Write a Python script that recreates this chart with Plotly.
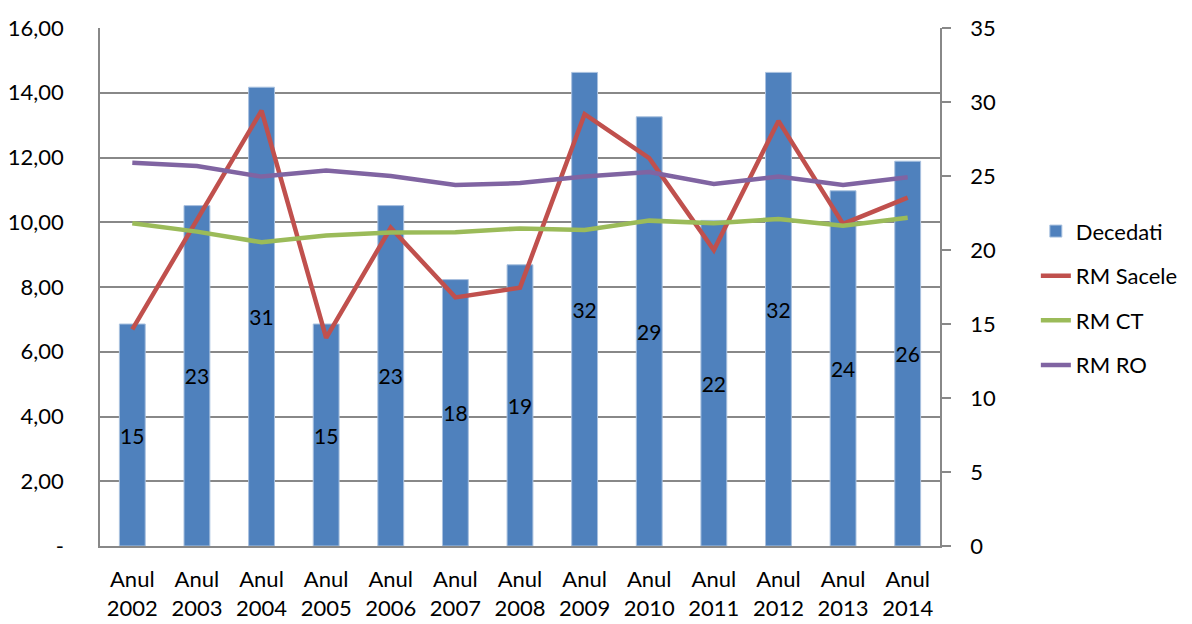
import plotly.graph_objects as go

# Categories and series values
years = ["Anul<br>2002", "Anul<br>2003", "Anul<br>2004", "Anul<br>2005", "Anul<br>2006",
         "Anul<br>2007", "Anul<br>2008", "Anul<br>2009", "Anul<br>2010", "Anul<br>2011",
         "Anul<br>2012", "Anul<br>2013", "Anul<br>2014"]
decedati = [15, 23, 31, 15, 23, 18, 19, 32, 29, 22, 32, 24, 26]
rm_sacele = [6.69, 10.07, 13.45, 6.43, 9.83, 7.68, 7.98, 13.34, 11.98, 9.14, 13.13, 9.95, 10.76]
rm_ct = [9.97, 9.71, 9.38, 9.59, 9.68, 9.69, 9.81, 9.76, 10.05, 9.97, 10.10, 9.89, 10.14]
rm_ro = [11.84, 11.74, 11.41, 11.60, 11.43, 11.15, 11.21, 11.41, 11.55, 11.18, 11.41, 11.15, 11.39]

# Axis ticks
rate_ticks = [0, 2, 4, 6, 8, 10, 12, 14, 16]
rate_labels = ["-", "2,00", "4,00", "6,00", "8,00", "10,00", "12,00", "14,00", "16,00"]
count_ticks = [0, 5, 10, 15, 20, 25, 30, 35]

FONT = "Lato"
GRAY = "#888888"

fig = go.Figure()

# Deaths as bars on the right-hand axis (primary y so the lines sit on top)
fig.add_trace(go.Bar(
    x=years, y=decedati, name="Decedati", legendgroup="a",
    marker=dict(color="#4F81BD", line=dict(color="#A9C1DF", width=1)),
    text=[str(v) for v in decedati], textposition="inside",
    insidetextanchor="middle", textangle=0, constraintext="none",
    textfont=dict(family=FONT, size=21, color="black"),
    yaxis="y",
))

# Mortality rates as lines on the left-hand axis
for name, vals, color, grp in [("RM Sacele", rm_sacele, "#C0504D", "b"),
                               ("RM CT", rm_ct, "#9BBB59", "c"),
                               ("RM RO", rm_ro, "#8064A2", "d")]:
    fig.add_trace(go.Scatter(
        x=years, y=vals, name=name, mode="lines", legendgroup=grp,
        line=dict(color=color, width=4.5),
        yaxis="y2",
    ))

fig.update_layout(
    width=1192, height=624,
    margin=dict(l=100, r=252, t=28, b=78, autoexpand=False),
    paper_bgcolor="white", plot_bgcolor="white",
    font=dict(family=FONT, size=22, color="black"),
    bargap=0.6,
    showlegend=True,
    legend=dict(xref="container", yref="container",
                x=0.869, xanchor="left", y=0.663, yanchor="top",
                font=dict(family=FONT, size=22, color="black"),
                tracegroupgap=13, itemwidth=30, borderwidth=0,
                bgcolor="rgba(0,0,0,0)"),
    xaxis=dict(
        showgrid=False, showline=True, linecolor=GRAY, linewidth=1.5,
        ticks="", tickfont=dict(family=FONT, size=22, color="black"),
        ticklabelstandoff=13, automargin=False,
    ),
    yaxis=dict(
        side="right", range=[0, 35], tickvals=count_ticks,
        showgrid=False, zeroline=False,
        showline=True, linecolor=GRAY, linewidth=1.5,
        ticks="outside", ticklen=9, tickcolor=GRAY, tickwidth=1.5,
        ticklabelstandoff=15, automargin=False,
        tickfont=dict(family=FONT, size=22, color="black"),
    ),
    yaxis2=dict(
        side="left", overlaying="y", range=[0, 16],
        tickvals=rate_ticks, ticktext=rate_labels,
        showgrid=True, gridcolor=GRAY, gridwidth=1.5, zeroline=False,
        showline=True, linecolor=GRAY, linewidth=1.5,
        ticks="", ticklabelstandoff=30, automargin=False,
        tickfont=dict(family=FONT, size=22, color="black"),
    ),
)

fig.write_html("out.html")
